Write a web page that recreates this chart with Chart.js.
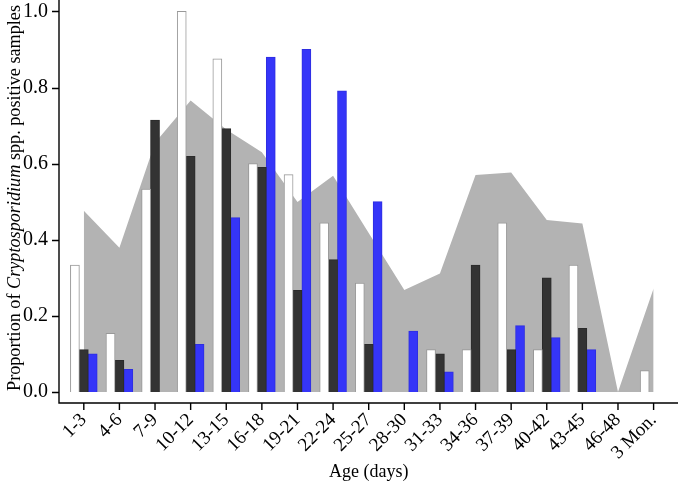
<!DOCTYPE html>
<html lang="en">
<head>
<meta charset="UTF-8">
<title>Cryptosporidium positive samples by age</title>
<script src="https://cdn.jsdelivr.net/npm/chart.js"></script>
<style>
  * { margin: 0; padding: 0; }
  body { background: #fff; width: 678px; height: 481px; overflow: hidden; }
  canvas { display: block; }
</style>
</head>
<body>
<canvas id="ageChart" width="678" height="481"></canvas>
<script>
// age groups on the x axis
const ageGroups = ['1-3', '4-6', '7-9', '10-12', '13-15', '16-18', '19-21', '22-24', '25-27',
  '28-30', '31-33', '34-36', '37-39', '40-42', '43-45', '46-48', '3 Mon.'];

// proportion of positive samples, three groups (white / dark / blue bars)
const whiteBars = [0.333, 0.154, 0.533, 1.0, 0.875, 0.6, 0.571, 0.444, 0.286,
  0, 0.111, 0.111, 0.444, 0.111, 0.333, 0, 0.056];
const darkBars = [0.111, 0.083, 0.714, 0.619, 0.692, 0.59, 0.267, 0.348, 0.125,
  0, 0.1, 0.333, 0.111, 0.3, 0.167, 0, 0];
const blueBars = [0.1, 0.059, 0, 0.125, 0.458, 0.88, 0.9, 0.791, 0.5,
  0.16, 0.053, 0, 0.174, 0.143, 0.111, 0, 0];

// upper edge of the grey band
const bandUpper = [0.476, 0.379, 0.655, 0.766, 0.69, 0.63, 0.499, 0.568, 0.418,
  0.268, 0.311, 0.57, 0.577, 0.452, 0.443, 0, 0.272];

const yTickValues = [0, 0.2, 0.4, 0.6, 0.8, 1.0];

const SERIF = "'Liberation Serif', 'DejaVu Serif', serif";

// axis lines, tick marks and the mixed-style y title (R-like look)
const axesPlugin = {
  id: 'axesPlugin',
  afterDraw(chart) {
    const { ctx, chartArea, scales } = chart;
    const xAxisX = chartArea.left - 7;
    const yBase = chartArea.bottom;
    ctx.save();
    ctx.strokeStyle = '#000';
    ctx.lineWidth = 1.4;
    ctx.beginPath();
    ctx.moveTo(xAxisX, 0);
    ctx.lineTo(xAxisX, yBase);
    ctx.lineTo(chart.width, yBase);
    yTickValues.forEach(v => {
      const py = Math.round(scales.y.getPixelForValue(v)) + 0.5;
      ctx.moveTo(xAxisX - 7, py);
      ctx.lineTo(xAxisX, py);
    });
    ageGroups.forEach((g, i) => {
      const px = scales.x.getPixelForTick(i);
      ctx.moveTo(px, yBase);
      ctx.lineTo(px, yBase + 7);
    });
    ctx.stroke();

    // y axis title
    const parts = [
      { text: 'Proportion of ', font: '18.2px ' + SERIF },
      { text: 'Cryptosporidium', font: 'italic 18.2px ' + SERIF },
      { text: ' spp. positive samples', font: '18.2px ' + SERIF },
    ];
    let total = 0;
    parts.forEach(p => { ctx.font = p.font; p.w = ctx.measureText(p.text).width; total += p.w; });
    ctx.translate(20, 198);
    ctx.rotate(-Math.PI / 2);
    ctx.fillStyle = '#000';
    ctx.textBaseline = 'alphabetic';
    ctx.textAlign = 'left';
    let cx = -total / 2;
    parts.forEach(p => { ctx.font = p.font; ctx.fillText(p.text, cx, 0); cx += p.w; });
    ctx.restore();
  }
};

const barStyle = {
  barPercentage: 1.0,
  categoryPercentage: 0.75,
  borderWidth: 1,
  borderSkipped: 'start',
  inflateAmount: 0.4,
  order: 1,
};

new Chart(document.getElementById('ageChart'), {
  type: 'bar',
  data: {
    labels: ageGroups,
    datasets: [
      { label: 'white', data: whiteBars, backgroundColor: '#ffffff', borderColor: '#999999', ...barStyle },
      { label: 'dark', data: darkBars, backgroundColor: '#333333', borderColor: '#2b2b2b', ...barStyle },
      { label: 'blue', data: blueBars, backgroundColor: '#3535f8', borderColor: '#2e2ee0', ...barStyle },
      {
        type: 'line',
        label: 'band',
        data: bandUpper,
        fill: 'origin',
        backgroundColor: '#b3b3b3',
        borderWidth: 0,
        borderColor: 'rgba(0,0,0,0)',
        pointRadius: 0,
        tension: 0,
        order: 10,
      },
    ],
  },
  options: {
    responsive: false,
    devicePixelRatio: 1,
    animation: false,
    layout: { padding: { left: 0, right: 6.6, top: 0, bottom: 0 } },
    plugins: {
      legend: { display: false },
      tooltip: { enabled: false },
    },
    scales: {
      x: {
        offset: true,
        grid: { display: false, drawTicks: false, offset: false },
        border: { display: false },
        ticks: {
          autoSkip: false,
          minRotation: 45,
          maxRotation: 45,
          padding: 6,
          color: '#000',
          font: { family: SERIF, size: 19 },
        },
        title: {
          display: true,
          text: 'Age (days)',
          color: '#000',
          font: { family: SERIF, size: 18 },
          padding: { top: 0, bottom: -2 },
        },
        afterFit: s => {
          s.height = 78;
          s.paddingLeft = 0;
          s.paddingRight = 0;
        },
      },
      y: {
        min: -0.029,
        max: 1.03,
        grid: { display: false, drawTicks: false },
        border: { display: false },
        afterBuildTicks: s => { s.ticks = yTickValues.map(v => ({ value: v })); },
        afterFit: s => {
          s.width = 66;
          s.paddingTop = 0;
          s.paddingBottom = 0;
        },
        ticks: {
          padding: 18,
          color: '#000',
          font: { family: SERIF, size: 20 },
          callback: v => Number(v).toFixed(1),
        },
      },
    },
  },
  plugins: [axesPlugin],
});
</script>
</body>
</html>
